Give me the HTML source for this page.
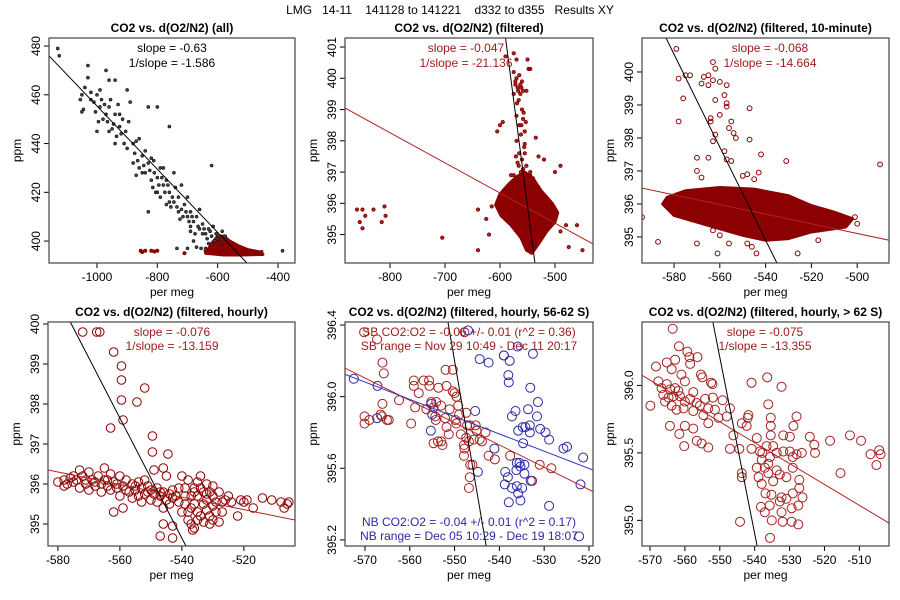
<!DOCTYPE html>
<html><head><meta charset="utf-8"><style>
body{margin:0;background:#fff}
svg{display:block;font-family:"Liberation Sans",sans-serif}
</style></head><body>
<svg id="c" width="900" height="600" viewBox="0 0 900 600">
<text x="450" y="14" text-anchor="middle" font-size="12" xml:space="preserve">LMG   14-11    141128 to 141221    d332 to d355   Results XY</text>
</svg>
<script>
// ---- data ----
const p1Black=[[-1130,479],[-1125,476],[-1030,472],[-970,470],[-1030,467],[-1040,463],[-1050,460],[-1020,461],[-1000,460],[-960,466],[-940,466],[-900,462],[-1050,453],[-990,455],[-980,450],[-960,455],[-940,452],[-930,456],[-890,457],[-960,445],[-950,446],[-920,444],[-940,440],[-910,440],[-900,438],[-880,432],[-870,427],[-860,430],[-850,435],[-840,437],[-830,432],[-820,434],[-810,428],[-800,426],[-790,430],[-780,423],[-770,425],[-760,420],[-750,418],[-740,422],[-730,418],[-720,413],[-710,415],[-700,410],[-690,412],[-680,408],[-670,410],[-660,405],[-650,407],[-640,403],[-630,405],[-620,402],[-610,400],[-600,401],[-830,455],[-800,455],[-760,447],[-830,412],[-620,431],[-1000,445],[-1010,457],[-985,458],[-970,452],[-945,448],[-925,447],[-905,445],[-880,440],[-860,442],[-850,428],[-820,425],[-805,420],[-790,418],[-770,415],[-745,428],[-720,423],[-700,418],[-690,406],[-675,403],[-660,413],[-655,397],[-640,397],[-700,397],[-735,397],[-585,404],[-575,402],[-385,396],[-1045,454],[-1055,458],[-995,449],[-975,456],[-915,450],[-895,449],[-870,441],[-840,428],[-812,433],[-795,423],[-780,430],[-760,416],[-730,412],[-715,410],[-690,404],[-680,400],[-670,397.5],[-650,403],[-630,399],[-615,406],[-595,402],[-590,399],[-1020,458],[-1005,453],[-990,462],[-965,449],[-955,458],[-935,443],[-925,452],[-875,436],[-865,433],[-845,431],[-825,429],[-815,422],[-800,420],[-785,426],[-775,420],[-765,423],[-755,414],[-745,416],[-735,414],[-725,409],[-705,412],[-695,408],[-685,410],[-665,406],[-645,405],[-635,401],[-625,404],[-605,403]];
const p1Red=[[-855,396],[-850,395.5],[-840,396],[-820,396],[-810,395.7],[-800,396],[-710,395],[-640,396],[-470,395],[-455,395.5]];
const p1Cluster=[[-620,399],[-600,402],[-580,402],[-560,400],[-530,398],[-500,396.5],[-460,395.5],[-450,394.5],[-520,394.3],[-580,394.3],[-640,395],[-630,397]];
const p2Points=[[-575,400.2],[-570,400],[-565,400.1],[-572,399.8],[-568,399.7],[-563,399.8],[-560,399.9],[-558,399.6],[-575,399.5],[-566,399.3],[-560,399],[-570,398.8],[-565,398.5],[-562,398.2],[-558,398.7],[-555,398.3],[-570,398],[-565,397.6],[-560,397.4],[-568,397.3],[-555,397.6],[-552,397.2],[-562,397],[-575,396.9],[-545,397.0],[-540,396.8],[-590,400.7],[-575,400.8],[-570,400.6],[-548,400.3],[-545,400.3],[-550,400.6],[-600,398.5],[-595,398.6],[-605,398.3],[-535,398.1],[-530,397.5],[-520,397.4],[-500,397.0],[-490,397.2],[-545,396.9],[-580,396.9],[-555,397.9],[-557,398.9],[-563,399.5],[-552,399.6],[-860,395.8],[-850,395.8],[-845,395.6],[-855,395.4],[-850,395.2],[-830,395.8],[-810,395.9],[-815,395.4],[-808,395.6],[-705,394.9],[-640,394.5],[-620,395],[-625,395.5],[-615,395.9],[-640,395.8],[-475,394.6],[-450,394.5],[-460,395.3],[-490,395.1],[-480,395.3],[-572,399.9],[-567,399.6],[-561,399.7],[-569,399.2],[-561,398.5],[-556,397.8],[-566,397.2],[-558,397.1],[-571,397.5],[-553,398.6]];
const p2Cluster=[[-570,396.85],[-555,397.0],[-540,396.8],[-525,396.4],[-505,396.0],[-495,395.7],[-500,395.4],[-515,395.1],[-530,394.7],[-542,394.4],[-552,394.5],[-562,394.9],[-580,395.3],[-598,395.6],[-608,395.95],[-600,396.3],[-585,396.6]];
const p3Points=[[-579,400.7],[-563,400.3],[-562,400.1],[-575,399.9],[-578,399.8],[-573,399.9],[-567,399.85],[-565,399.9],[-563,399.75],[-568,399.65],[-565,399.6],[-557,399.6],[-560,399.7],[-576,399.2],[-562,399.15],[-558,399.3],[-557,399.05],[-557,398.95],[-560,398.7],[-547,398.9],[-564,398.6],[-564,398.5],[-555,398.5],[-556,398.3],[-578,398.5],[-562,398.1],[-554,398.15],[-553,398.0],[-563,397.9],[-547,397.95],[-558,397.6],[-570,397.4],[-565,397.4],[-557,397.35],[-555,397.3],[-542,397.5],[-531,397.3],[-490,397.2],[-570,397.0],[-568,396.8],[-550,396.85],[-548,396.9],[-545,396.75],[-543,396.95],[-594,395.6],[-587,394.85],[-570,394.8],[-556,394.8],[-561,394.5],[-548,394.8],[-546,394.7],[-544,394.5],[-526,394.5],[-517,394.9],[-519,395.4],[-519,395.7],[-512,395.6],[-505,395.5],[-501,395.6],[-500,395.4],[-508,395.4],[-530,395.3],[-563,395.2],[-560,395.05]];
const p3Cluster=[[-583,396.2],[-575,396.4],[-560,396.5],[-545,396.45],[-530,396.25],[-520,395.95],[-510,395.75],[-502,395.55],[-505,395.3],[-520,395.15],[-530,394.95],[-540,394.9],[-550,395.05],[-565,395.35],[-580,395.65],[-585,396.0]];
const p4Points=[[-572,399.8],[-567.5,399.8],[-566.5,399.8],[-562,399.3],[-559.5,398.95],[-559.5,398.6],[-552,398.4],[-559.5,398.1],[-554.5,398.05],[-559,397.6],[-563,397.4],[-549.5,397.2],[-549.5,396.8],[-544.5,396.75],[-549,396.35],[-546,396.4],[-547,394.7],[-543,394.65],[-543,394.95],[-546,395.0],[-536.5,394.85],[-580,396.05],[-578,396.1],[-577,396.0],[-576,396.15],[-575,396.05],[-574,396.1],[-573,396.35],[-573,395.9],[-572,396.2],[-571,396.0],[-570,396.3],[-570,395.85],[-569,396.1],[-568,395.95],[-567,396.2],[-566,396.0],[-566,395.8],[-565,396.4],[-565,396.1],[-564,395.95],[-563,396.25],[-563,395.85],[-562,396.05],[-562,395.3],[-561,395.9],[-560,396.2],[-560,395.7],[-559,395.95],[-559,395.4],[-558,396.1],[-557,395.8],[-556,396.0],[-556,395.65],[-555,395.85],[-554,396.05],[-554,395.7],[-553,395.9],[-553,395.55],[-552,396.1],[-552,395.75],[-551,395.95],[-550,395.85],[-550,395.6],[-549,395.75],[-548,395.9],[-548,395.55],[-547,395.7],[-546,395.8],[-546,395.4],[-545,395.6],[-545,396.2],[-544,395.75],[-544,395.5],[-543,395.65],[-542,395.7],[-541,395.55],[-540,396.2],[-539,395.9],[-539,395.5],[-538,396.1],[-538,395.3],[-538,395.1],[-537,395.7],[-537,395.0],[-536,395.9],[-536,395.5],[-536,394.9],[-535,396.05],[-535,395.3],[-535,395.7],[-534,395.2],[-534,395.9],[-534,396.2],[-533,395.5],[-533,395.05],[-533,395.8],[-532,395.35],[-532,396.0],[-532,395.6],[-531,395.2],[-531,395.8],[-531,395.0],[-530,395.45],[-530,395.95],[-530,395.1],[-529,395.55],[-529,395.3],[-528,395.8],[-528,395.05],[-527,395.55],[-527,395.3],[-526,395.6],[-525,395.7],[-524,395.55],[-522,395.2],[-521,395.6],[-520,395.55],[-519,395.6],[-517,395.4],[-514,395.65],[-511,395.6],[-508,395.55],[-506,395.5],[-505.5,395.55],[-507,395.4],[-540,395.3],[-541,395.9],[-539,395.7],[-578,395.95],[-575,396.2],[-571,396.1],[-568,396.05],[-564,396.1],[-561,396.0],[-558,395.85],[-555,395.95],[-551,395.8],[-547,395.8],[-543,395.85],[-537,395.4],[-535,395.1],[-532,395.75],[-530,395.7],[-536,395.8]];
const p5Red=[[-570.2,396.36],[-567.3,396.32],[-566.1,396.19],[-565.8,396.13],[-562.4,395.98],[-570.1,395.89],[-570.1,395.85],[-569.0,395.87],[-566.5,395.90],[-566.1,395.96],[-565.1,395.87],[-564.7,395.87],[-559.7,395.85],[-559.1,396.09],[-559.1,396.06],[-558.8,395.94],[-558.0,396.02],[-556.9,396.09],[-555.7,396.09],[-555.6,396.06],[-556.3,395.93],[-555.2,395.97],[-554.7,395.94],[-554.1,395.97],[-553.6,396.05],[-554.3,395.89],[-554.2,395.87],[-554.7,395.74],[-553.7,395.75],[-553.0,395.75],[-552.7,395.73],[-553.0,395.95],[-552.0,396.15],[-551.8,396.06],[-551.1,395.93],[-552.1,395.88],[-551.8,395.83],[-551.3,395.79],[-550.4,396.15],[-550.4,396.03],[-550.0,396.02],[-549.6,396.00],[-549.2,395.95],[-549.8,395.87],[-549.0,395.90],[-549.6,395.85],[-548.6,395.79],[-547.9,395.73],[-547.9,395.67],[-547.8,395.71],[-547.4,395.77],[-547.4,395.91],[-547.2,395.84],[-546.6,395.84],[-546.8,395.75],[-546.5,395.62],[-545.7,395.76],[-546.0,395.62],[-546.6,395.55],[-546.8,395.49],[-545.3,395.84],[-545.1,395.81],[-544.4,395.76],[-543.9,395.75],[-543.1,395.80],[-542.4,395.67],[-541.0,395.65],[-537.6,395.67],[-539.0,396.23],[-531.0,395.62],[-528.4,395.60],[-532.7,395.53],[-547.8,396.36],[-566.2,395.89]];
const p5Blue=[[-572.5,396.10],[-567.2,396.06],[-567.3,395.88],[-555.3,395.81],[-555.0,395.90],[-555.2,395.96],[-545.4,395.92],[-547.0,396.37],[-544.4,396.21],[-542.4,396.19],[-539.0,396.23],[-537.7,396.20],[-538.0,396.12],[-537.9,396.08],[-535.9,396.28],[-533.1,396.05],[-532.5,396.24],[-536.4,395.92],[-537.2,395.89],[-533.6,395.93],[-531.4,395.97],[-531.6,395.89],[-534.8,395.83],[-534.2,395.83],[-533.2,395.84],[-533.2,395.80],[-535.8,395.81],[-530.9,395.82],[-529.7,395.80],[-528.9,395.76],[-534.7,395.74],[-541.1,395.71],[-544.8,395.58],[-538.7,395.58],[-538.1,395.55],[-536.1,395.63],[-535.5,395.63],[-534.4,395.62],[-536.2,395.59],[-535.3,395.61],[-534.4,395.57],[-538.8,395.51],[-537.2,395.49],[-536.1,395.50],[-534.9,395.49],[-535.8,395.46],[-537.9,395.41],[-535.3,395.42],[-533.0,395.53],[-528.9,395.39],[-525.7,395.71],[-524.9,395.72],[-521.3,395.66],[-521.9,395.51],[-522.2,395.22]];
const p6Points=[[-563.5,396.42],[-561.7,396.29],[-559.3,396.25],[-558.7,396.21],[-558.5,396.16],[-556.4,396.21],[-562.8,396.19],[-565.2,396.17],[-568.3,396.14],[-563.8,396.12],[-561.0,396.08],[-560.0,396.03],[-555.4,396.08],[-555.0,396.06],[-552.5,396.02],[-552.1,396.01],[-567.6,396.03],[-566.7,395.98],[-565.2,396.01],[-564.2,395.97],[-562.8,395.98],[-561.9,395.96],[-566.2,395.93],[-564.7,395.91],[-563.3,395.92],[-561.4,395.92],[-560.0,395.88],[-558.5,395.90],[-557.6,395.95],[-556.6,395.87],[-555.7,395.85],[-554.2,395.90],[-553.3,395.83],[-552.0,395.91],[-551.4,395.82],[-549.2,395.89],[-547.1,395.83],[-548.0,395.77],[-550.4,395.76],[-554.7,395.78],[-557.6,395.81],[-560.4,395.83],[-562.4,395.82],[-563.8,395.85],[-565.7,395.88],[-569.9,395.85],[-564.3,395.70],[-561.6,395.64],[-560.0,395.70],[-557.6,395.68],[-556.6,395.59],[-555.2,395.57],[-553.3,395.54],[-560.2,395.55],[-553.3,395.72],[-546.1,395.63],[-547.1,395.53],[-543.7,395.72],[-542.3,395.70],[-541.8,395.78],[-542.0,395.76],[-540.9,396.02],[-536.4,396.06],[-536.1,395.86],[-535.4,395.76],[-535.4,395.70],[-535.4,395.63],[-532.3,395.99],[-531.8,395.63],[-529.9,395.62],[-528.9,395.70],[-528.0,395.77],[-524.2,395.62],[-522.9,395.56],[-522.7,395.50],[-518.4,395.59],[-512.7,395.63],[-509.5,395.59],[-515.4,395.35],[-506.8,395.49],[-504.3,395.52],[-503.9,395.49],[-505.1,395.41],[-540.9,395.53],[-539.4,395.61],[-538.5,395.51],[-537.8,395.50],[-536.6,395.55],[-535.6,395.47],[-534.7,395.55],[-533.7,395.50],[-531.8,395.51],[-529.9,395.51],[-529.1,395.47],[-528.0,395.49],[-526.5,395.50],[-538.0,395.45],[-536.1,395.42],[-537.1,395.39],[-539.4,395.39],[-538.9,395.32],[-536.1,395.35],[-533.7,395.37],[-532.8,395.34],[-530.9,395.32],[-529.1,395.39],[-527.2,395.30],[-538.0,395.27],[-534.7,395.29],[-536.9,395.20],[-535.2,395.19],[-532.3,395.17],[-530.9,395.16],[-529.1,395.20],[-526.3,395.17],[-527.2,395.24],[-532.8,395.14],[-538.2,395.10],[-537.1,395.06],[-535.7,395.11],[-532.3,395.06],[-529.4,395.09],[-527.5,395.11],[-535.1,395.00],[-532.0,394.99],[-529.4,394.99],[-527.5,394.97],[-535.6,394.87],[-544.2,394.99],[-543.7,395.35],[-543.7,395.32],[-544.4,395.53]];
// regression lines as [x1,y1,x2,y2] in data units
const p1Fit=[-1159,476,-503,391];
const p2FitRed=[-882,399.05,-431,394.7], p2FitBlack=[-590,401.3,-536.5,394.1];
const p3FitRed=[-594,396.48,-486,394.9], p3FitBlack=[-583.5,401.03,-535,394.2];
const p4FitRed=[-583.2,396.35,-503.5,395.1], p4FitBlack=[-576,400.05,-538.7,394.45];
const p5FitRed=[-574.5,396.16,-519.1,395.47], p5FitBlue=[-574.5,396.125,-519.1,395.59], p5FitBlack=[-551.5,396.42,-542.5,395.1];
const p6FitRed=[-572.3,396.075,-501.5,394.98], p6FitBlack=[-552,396.47,-539.3,394.81];
const xt1=[-1000,-800,-600,-400], yt1=[400,420,440,460,480];
const xt2=[-800,-700,-600,-500], yt2=[395,396,397,398,399,400,401];
const xt3=[-580,-560,-540,-520,-500], yt3=[395,396,397,398,399,400];
const xt4=[-580,-560,-540,-520], yt4=[395,396,397,398,399,400];
const xt5=[-570,-560,-550,-540,-530,-520], yt5=[395.2,395.6,396.0,396.4];
const xt6=[-570,-560,-550,-540,-530,-520,-510], yt6=[395.0,395.5,396.0];

const NS='http://www.w3.org/2000/svg', svg=document.getElementById('c');
const DR='#8b0000', LR='#b22222', TR='#a01c1c', BL='#2a2aa8';
function mk(tag,attrs,parent){const e=document.createElementNS(NS,tag);for(const k in attrs)e.setAttribute(k,attrs[k]);(parent||svg).appendChild(e);return e;}
let pid=0;
function panel(cfg){
  pid++;
  const g=mk('g',{});
  
  
  const [L,T,R,B]=cfg.box, [x0,x1]=cfg.xd, [y0,y1]=cfg.yd;
  const sx=v=>L+(v-x0)/(x1-x0)*(R-L), sy=v=>B-(v-y0)/(y1-y0)*(B-T);
  const cp=mk('clipPath',{id:'cp'+pid},g); mk('rect',{x:L,y:T,width:R-L,height:B-T},cp);
  const t=mk('text',{x:(L+R)/2,y:T-6,'text-anchor':'middle','font-size':12,'font-weight':'bold'},g);t.textContent=cfg.title;
  
  
  const xl=mk('text',{x:(L+R)/2,y:B+33,'text-anchor':'middle','font-size':12},g);xl.textContent='per meg';
  
  
  const yl=mk('text',{x:0,y:0,'text-anchor':'middle','font-size':12,transform:`translate(${L-28},${(T+B)/2}) rotate(-90)`},g);yl.textContent='ppm';
  
  
  const ax=mk('g',{stroke:'#000','stroke-width':1},g);
  
  
  cfg.xt.forEach(v=>{const p=sx(v);mk('line',{x1:p,x2:p,y1:B,y2:B+5},ax);const tx=mk('text',{x:p,y:B+18,'text-anchor':'middle','font-size':12,stroke:'none'},g);tx.textContent=cfg.xf?cfg.xf(v):v;
    
    });
  mk('line',{x1:sx(cfg.xt[0]),x2:sx(cfg.xt[cfg.xt.length-1]),y1:B,y2:B},ax);
  cfg.yt.forEach(v=>{const p=sy(v);mk('line',{x1:L,x2:L-5,y1:p,y2:p},ax);const ty=mk('text',{x:0,y:0,'text-anchor':'middle','font-size':12,transform:`translate(${L-9},${p}) rotate(-90)`},g);ty.textContent=cfg.yf?cfg.yf(v):v;
    
    });
  mk('line',{x1:L,x2:L,y1:sy(cfg.yt[0]),y2:sy(cfg.yt[cfg.yt.length-1])},ax);
  const pg=mk('g',{'clip-path':`url(#cp${pid})`},g);
  
  
  (cfg.clusters||[]).forEach(c=>{const pl=mk('polygon',{points:c.pts.map(d=>sx(d[0])+','+sy(d[1])).join(' '),fill:c.color,stroke:c.color,'stroke-width':3,'stroke-linejoin':'round'},pg);
    
    });
  cfg.series.forEach(s=>{s.pts.forEach(d=>{const c=mk('circle',{cx:sx(d[0]),cy:sy(d[1]),r:s.r,fill:s.fill||'none',stroke:s.color,'stroke-width':s.sw||1,'fill-opacity':s.fo||1},pg);
    
    });});
  cfg.lines.forEach(l=>{const f=l.d;const ln=mk('line',{x1:sx(f[0]),y1:sy(f[1]),x2:sx(f[2]),y2:sy(f[3]),stroke:l.color,'stroke-width':1},pg);
    
    });
  mk('rect',{x:L,y:T,width:R-L,height:B-T,fill:'none',stroke:'#444','stroke-width':1.2},g);
  cfg.notes.forEach(n=>{const tx=mk('text',{x:n[0],y:n[1],'text-anchor':'middle','font-size':12,fill:n[3]},g);tx.textContent=n[2];
    
    });
}
const f1=v=>v.toFixed(1);
panel({box:[49,38,295,263],xd:[-1159,-343.7],yd:[391.0,483.3],xt:xt1,yt:yt1,title:'CO2 vs. d(O2/N2) (all)',
  clusters:[{pts:p1Cluster,color:DR}],
  series:[{pts:p1Black,r:1.5,fill:'#444',color:'#111',sw:0.6,name:'point-all'},{pts:p1Red,r:1.5,fill:DR,color:DR,name:'point-filtered'}],
  lines:[{d:p1Fit,color:'#000',name:'fit-line'}],
  notes:[[172,52,'slope = -0.63','#000'],[172,67,'1/slope = -1.586','#000']]});
panel({box:[345,38,593,263],xd:[-881.8,-430.9],yd:[394.09,401.29],xt:xt2,yt:yt2,title:'CO2 vs. d(O2/N2) (filtered)',
  clusters:[{pts:p2Cluster,color:DR}],
  series:[{pts:p2Points,r:1.6,fill:DR,color:DR,fo:0.8,name:'point-filtered'}],
  lines:[{d:p2FitRed,color:LR,name:'fit-line-red'},{d:p2FitBlack,color:'#000',name:'fit-line-black'}],
  notes:[[466,52,'slope = -0.047',TR],[466,67,'1/slope = -21.136',TR]]});
panel({box:[642,38,889,263],xd:[-594.0,-486.1],yd:[394.21,401.03],xt:xt3,yt:yt3,title:'CO2 vs. d(O2/N2) (filtered, 10-minute)',
  clusters:[{pts:p3Cluster,color:DR}],
  series:[{pts:p3Points,r:2.4,color:DR,name:'point-10-minute'}],
  lines:[{d:p3FitRed,color:LR,name:'fit-line-red'},{d:p3FitBlack,color:'#000',name:'fit-line-black'}],
  notes:[[770,52,'slope = -0.068',TR],[770,67,'1/slope = -14.664',TR]]});
panel({box:[48,322,295,546],xd:[-583.2,-503.5],yd:[394.45,400.05],xt:xt4,yt:yt4,title:'CO2 vs. d(O2/N2) (filtered, hourly)',
  series:[{pts:p4Points,r:4.3,color:DR,name:'point-hourly'}],
  lines:[{d:p4FitRed,color:LR,name:'fit-line-red'},{d:p4FitBlack,color:'#000',name:'fit-line-black'}],
  notes:[[172,336,'slope = -0.076',TR],[172,350,'1/slope = -13.159',TR]]});
panel({box:[345,322,593,546],xd:[-574.46,-519.1],yd:[395.166,396.417],xt:xt5,yt:yt5,yf:f1,title:'CO2 vs. d(O2/N2) (filtered, hourly, 56-62 S)',
  series:[{pts:p5Red,r:4.5,color:'#a52020',name:'point-sb'},{pts:p5Blue,r:4.5,color:BL,name:'point-nb'}],
  lines:[{d:p5FitRed,color:LR,name:'fit-line-sb'},{d:p5FitBlue,color:'#3030c0',name:'fit-line-nb'},{d:p5FitBlack,color:'#000',name:'fit-line-black'}],
  notes:[[469,336,'SB CO2:O2 = -0.06 +/- 0.01 (r^2 = 0.36)',TR],[469,350,'SB range = Nov 29 10:49 - Dec 11 20:17',TR],[469,526,'NB CO2:O2 = -0.04 +/- 0.01 (r^2 = 0.17)',BL],[469,540,'NB range = Dec 05 10:29 - Dec 19 18:07',BL]]});
panel({box:[642,322,889,546],xd:[-572.3,-501.5],yd:[394.81,396.47],xt:xt6,yt:yt6,yf:f1,title:'CO2 vs. d(O2/N2) (filtered, hourly, > 62 S)',
  series:[{pts:p6Points,r:4.5,color:'#a52020',name:'point-hourly-south'}],
  lines:[{d:p6FitRed,color:LR,name:'fit-line-red'},{d:p6FitBlack,color:'#000',name:'fit-line-black'}],
  notes:[[765,336,'slope = -0.075',TR],[765,350,'1/slope = -13.355',TR]]});
</script>
</body></html>
